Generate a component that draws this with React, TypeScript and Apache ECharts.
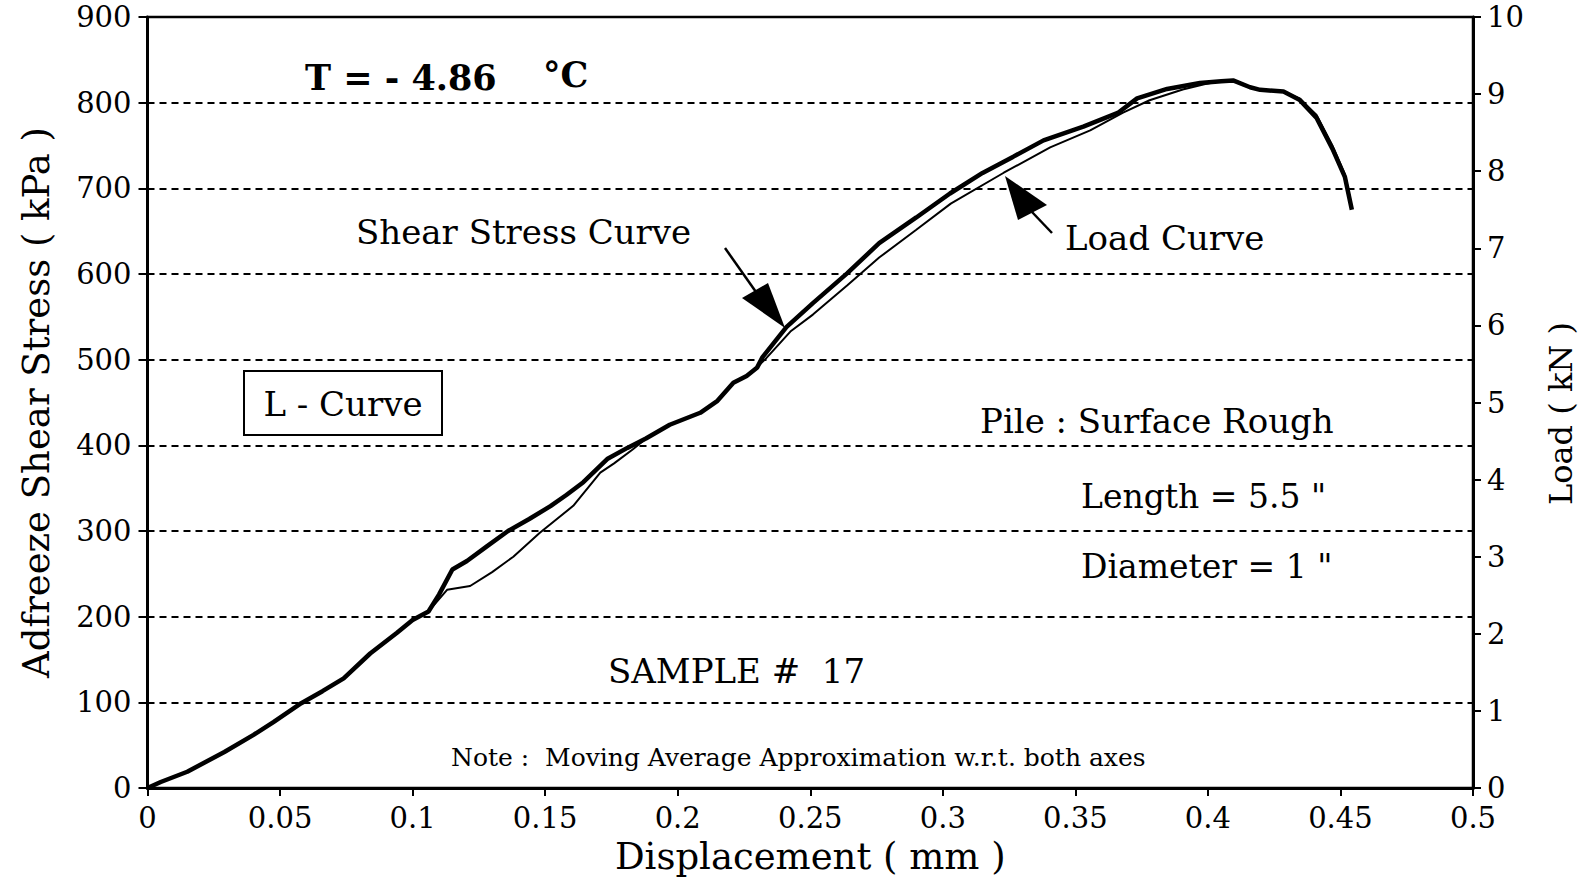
import React, { useEffect, useRef } from "react";
import * as echarts from "echarts";

// Displacement (mm) and adfreeze shear stress (kPa) — Shear Stress Curve
const shearDisp = [0, 0.005, 0.015, 0.029, 0.04, 0.0475, 0.058, 0.066, 0.074, 0.084, 0.094, 0.1, 0.106, 0.11, 0.115, 0.1205, 0.128, 0.136, 0.144, 0.152, 0.158, 0.1644, 0.1734, 0.181, 0.188, 0.197, 0.2085, 0.215, 0.221, 0.226, 0.23, 0.232, 0.241, 0.251, 0.264, 0.276, 0.29, 0.3027, 0.315, 0.3266, 0.338, 0.353, 0.366, 0.3733, 0.3846, 0.397, 0.405, 0.4095, 0.4159, 0.4197, 0.4285, 0.4347, 0.441, 0.447, 0.4517, 0.4543];
const shearStress = [0, 7, 19, 42, 62, 77, 99, 113, 128, 157, 181, 196, 206, 226, 255, 265, 282, 300, 314, 329, 342, 357, 384, 397, 408, 424, 438, 452, 473, 481, 491, 503, 538, 566, 601, 636, 666, 694, 718, 737, 756, 772, 788, 805, 816, 823, 825, 826, 818, 815, 813, 803, 782, 746, 713, 675];

// Displacement (mm) and load (kN) — Load Curve
const loadDisp = [0, 0.005, 0.015, 0.029, 0.04, 0.0475, 0.058, 0.066, 0.074, 0.084, 0.094, 0.1, 0.106, 0.113, 0.1217, 0.13, 0.138, 0.148, 0.1606, 0.1708, 0.176, 0.183, 0.188, 0.197, 0.2085, 0.215, 0.221, 0.226, 0.23, 0.233, 0.2425, 0.251, 0.264, 0.276, 0.29, 0.303, 0.323, 0.3405, 0.3556, 0.368, 0.378, 0.3905, 0.399, 0.405, 0.4095, 0.4159, 0.4197, 0.4285, 0.4347, 0.441, 0.447, 0.4517, 0.4543];
const loadKN = [0, 0.08, 0.21, 0.47, 0.69, 0.86, 1.1, 1.26, 1.42, 1.74, 2.01, 2.18, 2.29, 2.57, 2.62, 2.8, 3.0, 3.31, 3.66, 4.09, 4.21, 4.39, 4.53, 4.71, 4.87, 5.02, 5.26, 5.34, 5.46, 5.56, 5.92, 6.14, 6.52, 6.88, 7.24, 7.58, 7.98, 8.31, 8.53, 8.76, 8.92, 9.06, 9.13, 9.17, 9.18, 9.09, 9.06, 9.03, 8.94, 8.73, 8.33, 7.96, 7.53];

const FONT = '"DejaVu Serif", serif';

export default function App() {
  const ref = useRef<HTMLDivElement>(null);
  useEffect(() => {
    if (!ref.current) return;
    const chart = echarts.init(ref.current, null, { renderer: "svg" });
    const txt = (text: string, x: number, y: number, size: number, extra: any = {}) => ({
      type: "text",
      x,
      y,
      z: 100,
      style: { text, fontSize: size, fontFamily: FONT, fill: "#000", verticalAlign: "middle", align: "left", ...extra },
    });
    chart.setOption({
      animation: false,
      backgroundColor: "#fff",
      grid: { left: 147.5, right: 122, top: 17, bottom: 98, show: true, borderColor: "#000", borderWidth: 2.5, backgroundColor: "transparent" },
      xAxis: {
        type: "value",
        min: 0,
        max: 0.5,
        interval: 0.05,
        name: "Displacement ( mm )",
        nameLocation: "middle",
        nameGap: 50,
        nameTextStyle: { fontSize: 37, fontFamily: FONT, color: "#000" },
        axisLine: { lineStyle: { color: "#000", width: 3 } },
        axisTick: { show: true, length: 8, lineStyle: { color: "#000", width: 2 } },
        axisLabel: { fontSize: 29, fontFamily: FONT, color: "#000", margin: 15 },
        splitLine: { show: false },
      },
      yAxis: [
        {
          type: "value",
          min: 0,
          max: 900,
          interval: 100,
          name: "Adfreeze Shear Stress ( kPa )",
          nameLocation: "middle",
          nameGap: 93,
          nameRotate: 90,
          nameTextStyle: { fontSize: 37, fontFamily: FONT, color: "#000" },
          axisLine: { show: true, lineStyle: { color: "#000", width: 3 } },
          axisTick: { show: true, length: 9, lineStyle: { color: "#000", width: 2 } },
          axisLabel: { fontSize: 29, fontFamily: FONT, color: "#000", margin: 16 },
          splitLine: { show: true, lineStyle: { color: "#000", width: 2, type: [7, 5] } },
        },
        {
          type: "value",
          min: 0,
          max: 10,
          interval: 1,
          position: "right",
          name: "Load ( kN )",
          nameLocation: "middle",
          nameGap: 72,
          nameRotate: 90,
          nameTextStyle: { fontSize: 32, fontFamily: FONT, color: "#000", padding: [0, 22, 0, 0] },
          axisLine: { show: true, lineStyle: { color: "#000", width: 3 } },
          axisTick: { show: true, length: 8, lineStyle: { color: "#000", width: 2 } },
          axisLabel: { fontSize: 29, fontFamily: FONT, color: "#000", margin: 14 },
          splitLine: { show: false },
        },
      ],
      series: [
        {
          name: "Shear Stress Curve",
          type: "line",
          yAxisIndex: 0,
          showSymbol: false,
          symbol: "none",
          lineStyle: { color: "#000", width: 4.5 },
          data: shearDisp.map((d, i) => [d, shearStress[i]]),
          z: 3,
        },
        {
          name: "Load Curve",
          type: "line",
          yAxisIndex: 1,
          showSymbol: false,
          symbol: "none",
          lineStyle: { color: "#000", width: 2 },
          data: loadDisp.map((d, i) => [d, loadKN[i]]),
          z: 4,
        },
      ],
      graphic: [
        txt("T = - 4.86", 305, 77, 35, { fontWeight: "bold" }),
        txt("°C", 543, 74, 35, { fontWeight: "bold" }),
        txt("Shear Stress Curve", 356, 232, 34),
        txt("Load Curve", 1065, 238, 34),
        {
          type: "rect",
          z: 100,
          shape: { x: 244, y: 371, width: 198, height: 64 },
          style: { fill: "#fff", stroke: "#000", lineWidth: 2 },
        },
        txt("L - Curve", 343, 404, 34, { align: "center" }),
        txt("Pile : Surface Rough", 980, 421, 34),
        txt('Length = 5.5 "', 1081, 496, 33),
        txt('Diameter = 1 "', 1081, 566, 33),
        txt("SAMPLE #  17", 608, 671, 34),
        txt("Note :  Moving Average Approximation w.r.t. both axes", 451, 757, 25),
        {
          type: "line",
          z: 100,
          shape: { x1: 725, y1: 248, x2: 756, y2: 292 },
          style: { stroke: "#000", lineWidth: 2.5 },
        },
        {
          type: "polygon",
          z: 100,
          shape: { points: [[785, 328], [742, 298], [768, 283]] },
          style: { fill: "#000" },
        },
        {
          type: "line",
          z: 100,
          shape: { x1: 1032, y1: 212, x2: 1052, y2: 233 },
          style: { stroke: "#000", lineWidth: 2.5 },
        },
        {
          type: "polygon",
          z: 100,
          shape: { points: [[1005, 176], [1018, 220], [1047, 205]] },
          style: { fill: "#000" },
        },
      ],
    });
    return () => chart.dispose();
  }, []);
  return <div ref={ref} style={{ position: "fixed", left: 0, top: 0, width: 1595, height: 886 }} />;
}
